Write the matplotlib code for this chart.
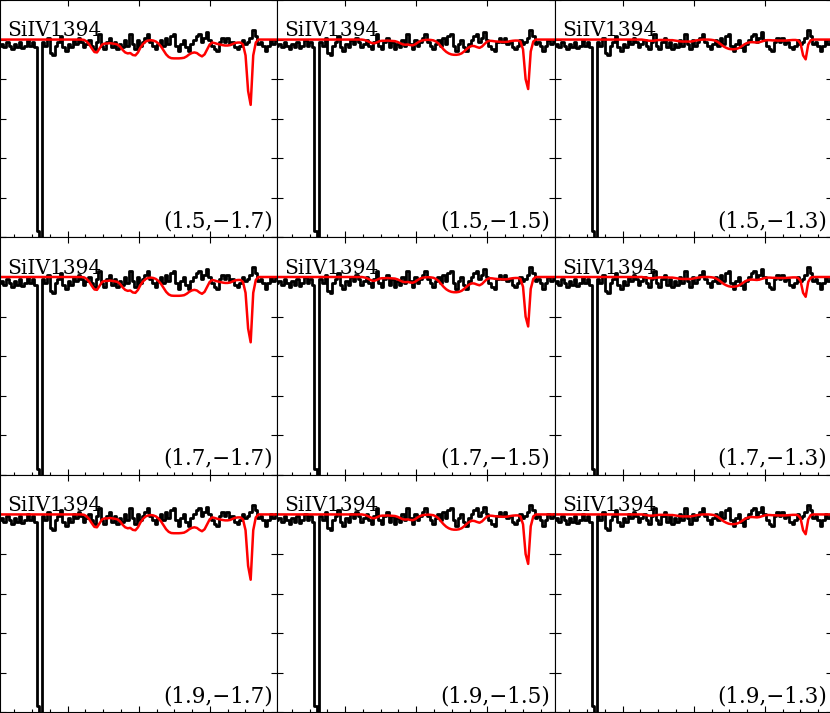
import numpy as np
import matplotlib
matplotlib.use("Agg")
import matplotlib.pyplot as plt
from matplotlib.ticker import MultipleLocator

# velocity grid (km/s), one value per spectral pixel
v_start = -195.5
v_step = 3.6

# observed normalised flux (same spectrum in every panel)
flux_obs = [
    0.97, 0.98, 0.96, 0.99, 0.97, 0.95, 0.98, 0.96, 0.99, 0.955,
    0.97, 1.00, 0.97, 0.99, 0.96, 0.03, -0.04, 0.99, 0.97, 1.01,
    0.93, 0.92, 0.97, 0.99, 1.02, 0.96, 0.94, 0.98, 0.96, 1.00,
    0.98, 1.01, 0.99, 0.96, 0.98, 1.00, 0.97, 0.95, 0.99, 1.03,
    0.97, 0.95, 0.99, 1.01, 0.96, 0.99, 0.95, 0.98, 0.96, 1.00,
    0.97, 1.03, 0.98, 0.95, 1.00, 0.97, 0.99, 1.01, 1.03, 0.99,
    0.97, 0.95, 0.98, 1.00, 0.97, 1.01, 0.98, 1.02, 1.03, 0.97,
    0.94, 0.98, 1.00, 0.96, 0.94, 0.98, 1.00, 1.02, 1.03, 0.99,
    1.01, 1.04, 1.00, 0.97, 0.95, 0.94, 0.99, 1.01, 0.99, 1.01,
    0.98, 0.99, 0.96, 0.95, 0.97, 1.00, 0.98, 0.99, 1.01, 1.05,
    1.02, 0.98, 0.99, 0.97, 0.94, 0.97, 1.00, 0.98, 1.00, 0.99,
]

# model flux for each column (log N = -1.7, -1.5, -1.3)
model_a = [
    1.0, 1.0, 1.0, 1.0, 1.0, 1.0, 1.0, 1.0, 1.0, 1.0,
    1.0, 1.0, 1.0, 1.0, 1.0, 1.0, 1.0, 1.0, 1.0, 1.0,
    1.0, 1.0, 1.0, 1.0, 1.0, 1.0, 1.0, 1.0, 1.0, 1.0,
    1.0, 1.0, 1.0, 0.998, 0.99, 0.975, 0.955, 0.937, 0.935, 0.955,
    0.975, 0.98, 0.98, 0.982, 0.98, 0.978, 0.975, 0.965, 0.948, 0.935,
    0.93, 0.932, 0.922, 0.92, 0.935, 0.96, 0.978, 0.99, 0.995, 0.997,
    0.995, 0.99, 0.98, 0.965, 0.945, 0.925, 0.912, 0.906, 0.905, 0.905,
    0.905, 0.906, 0.908, 0.915, 0.925, 0.932, 0.935, 0.932, 0.922, 0.915,
    0.925, 0.95, 0.975, 0.985, 0.982, 0.978, 0.975, 0.972, 0.97, 0.97,
    0.972, 0.978, 0.983, 0.985, 0.985, 0.975, 0.92, 0.74, 0.67, 0.92,
    0.985, 1.0, 1.0, 1.0, 1.0, 1.0, 1.0, 1.0, 1.0, 1.0,
]
model_b = [
    1.0, 1.0, 1.0, 1.0, 1.0, 1.0, 1.0, 1.0, 1.0, 1.0,
    1.0, 1.0, 1.0, 1.0, 1.0, 1.0, 1.0, 1.0, 1.0, 1.0,
    1.0, 1.0, 1.0, 1.0, 1.0, 1.0, 1.0, 1.0, 1.0, 1.0,
    1.0, 1.0, 1.0, 1.0, 0.998, 0.994, 0.988, 0.982, 0.981, 0.986,
    0.992, 0.994, 0.994, 0.995, 0.994, 0.993, 0.992, 0.988, 0.982, 0.976,
    0.974, 0.975, 0.972, 0.971, 0.977, 0.986, 0.993, 0.997, 0.998, 0.999,
    0.998, 0.996, 0.99, 0.98, 0.965, 0.95, 0.938, 0.93, 0.925, 0.923,
    0.923, 0.925, 0.93, 0.94, 0.952, 0.962, 0.968, 0.967, 0.962, 0.958,
    0.965, 0.978, 0.99, 0.994, 0.993, 0.991, 0.99, 0.989, 0.988, 0.988,
    0.989, 0.992, 0.994, 0.995, 0.995, 0.99, 0.95, 0.80, 0.75, 0.94,
    0.99, 1.0, 1.0, 1.0, 1.0, 1.0, 1.0, 1.0, 1.0, 1.0,
]
model_c = [
    1.0, 1.0, 1.0, 1.0, 1.0, 1.0, 1.0, 1.0, 1.0, 1.0,
    1.0, 1.0, 1.0, 1.0, 1.0, 1.0, 1.0, 1.0, 1.0, 1.0,
    1.0, 1.0, 1.0, 1.0, 1.0, 1.0, 1.0, 1.0, 1.0, 1.0,
    1.0, 1.0, 1.0, 1.0, 1.0, 0.998, 0.996, 0.994, 0.994, 0.995,
    0.997, 0.998, 0.998, 0.998, 0.998, 0.997, 0.997, 0.995, 0.993, 0.991,
    0.99, 0.99, 0.99, 0.99, 0.992, 0.995, 0.997, 0.999, 1.0, 1.0,
    1.0, 0.999, 0.997, 0.993, 0.985, 0.975, 0.965, 0.958, 0.953, 0.951,
    0.951, 0.953, 0.958, 0.966, 0.975, 0.982, 0.986, 0.987, 0.986, 0.985,
    0.987, 0.991, 0.995, 0.997, 0.997, 0.996, 0.996, 0.995, 0.995, 0.995,
    0.995, 0.996, 0.997, 0.998, 0.998, 0.996, 0.98, 0.92, 0.90, 0.975,
    0.997, 1.0, 1.0, 1.0, 1.0, 1.0, 1.0, 1.0, 1.0, 1.0,
]

row_params = ["1.5", "1.7", "1.9"]
col_params = ["\u22121.7", "\u22121.5", "\u22121.3"]
col_models = [model_a, model_b, model_c]
line_name = "SiIV1394"

vel = v_start + v_step * np.arange(len(flux_obs))

fig, axes = plt.subplots(3, 3, figsize=(8.30, 7.13), dpi=100)
fig.subplots_adjust(left=0.0, right=1.003, top=1.0, bottom=0.001,
                    wspace=0, hspace=0)

for r in range(3):
    for c in range(3):
        ax = axes[r, c]
        ax.plot(vel, flux_obs, drawstyle="steps-mid", color="black", lw=2.0)
        ax.plot(vel, col_models[c], color="red", lw=1.8)
        ax.set_xlim(-195, 195)
        ax.set_ylim(0, 1.2)
        ax.xaxis.set_major_locator(MultipleLocator(100))
        ax.xaxis.set_minor_locator(MultipleLocator(25))
        ax.yaxis.set_major_locator(MultipleLocator(0.2))
        ax.tick_params(which="major", direction="in", top=True, right=True,
                       length=4, width=0.8)
        ax.tick_params(which="minor", direction="in", top=False, length=2.2,
                       width=0.8)
        ax.set_xticklabels([])
        ax.set_yticklabels([])
        for sp in ax.spines.values():
            sp.set_linewidth(0.8)
        ax.text(0.025, 0.848, line_name, transform=ax.transAxes,
                family="DejaVu Serif", fontsize=14.5, ha="left",
                va="baseline")
        ax.text(0.982, 0.042, "(%s,%s)" % (row_params[r], col_params[c]),
                transform=ax.transAxes, family="DejaVu Serif", fontsize=15.5,
                ha="right", va="baseline")

fig.savefig("out.png", dpi=100)
